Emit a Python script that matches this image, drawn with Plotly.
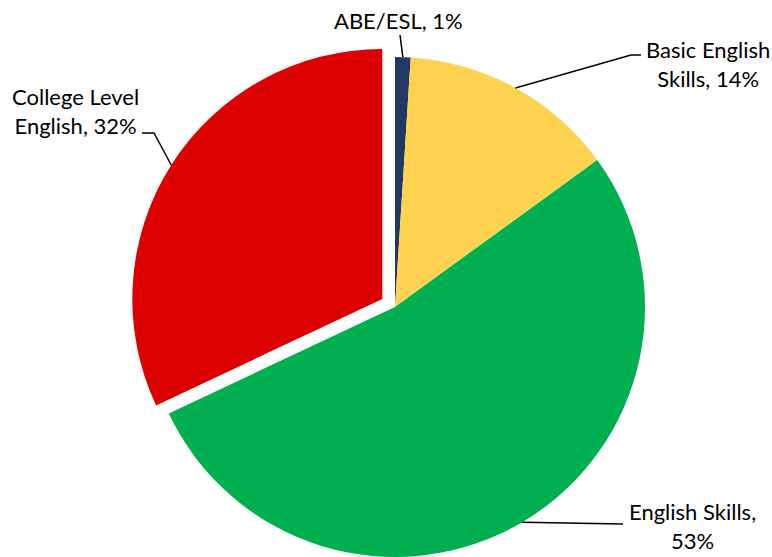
import math
import plotly.graph_objects as go

# Share of students by first English placement
categories = ["ABE/ESL", "Basic English Skills", "English Skills", "College Level English"]
shares = [1, 14, 53, 32]
colors = ["#203864", "#FFD24F", "#00B050", "#DC0000"]
label_lines = [["ABE/ESL, 1%"], ["Basic English", "Skills, 14%"],
               ["English Skills,", "53%"], ["College Level", "English, 32%"]]

W, H = 772, 557
CX, CY, R = 395, 307, 250          # pie centre and radius in pixels
PULL = 0.06                         # fraction of radius the last slice is pulled out
FONT = dict(family="Lato", size=22, color="#000000")
CLEAR = "rgba(0,0,0,0)"


def px(x, y):
    return x / W, 1 - y / H


def domain(cx, cy):
    return dict(x=[(cx - R) / W, (cx + R) / W], y=[1 - (cy + R) / H, 1 - (cy - R) / H])


total = sum(shares)
starts, acc = [], 0
for v in shares:
    starts.append(acc)
    acc += v
mids = [(s + v / 2) / total * 2 * math.pi for s, v in zip(starts, shares)]

# centre of the exploded slice, shifted along its bisector
pulled = len(shares) - 1
ox = CX + PULL * R * math.sin(mids[pulled])
oy = CY - PULL * R * math.cos(mids[pulled])

fig = go.Figure()
fig.add_trace(go.Pie(
    labels=categories, values=shares, sort=False, direction="clockwise", rotation=0,
    marker=dict(colors=colors[:pulled] + [CLEAR], line=dict(width=0)),
    textinfo="none", hoverinfo="label+percent", domain=domain(CX, CY), showlegend=False))
fig.add_trace(go.Pie(
    labels=categories, values=shares, sort=False, direction="clockwise", rotation=0,
    marker=dict(colors=[CLEAR] * pulled + [colors[pulled]], line=dict(width=0)),
    textinfo="none", hoverinfo="label+percent", domain=domain(ox, oy), showlegend=False))

# anchor points on each slice's rim
anchors = []
for i, m in enumerate(mids):
    cx, cy = (ox, oy) if i == pulled else (CX, CY)
    anchors.append((cx + R * math.sin(m), cy - R * math.cos(m)))

# label centres and leader-line bends (pixels)
label_pos = [(398, 20), (708, 64), (692, 526), (75, 111)]
leader_pts = [
    [(400, 35)],
    [(641, 55), (631, 55)],
    [(623, 524)],
    [(142, 133), (154, 133)],
]

shapes = []
for pts, a in zip(leader_pts, anchors):
    path_pts = pts + [a]
    d = "M " + " L ".join("{:.5f},{:.5f}".format(*px(x, y)) for x, y in path_pts)
    shapes.append(dict(type="path", xref="paper", yref="paper", path=d,
                       line=dict(color="#000000", width=1.5)))

annotations = []
for lines, (x, y) in zip(label_lines, label_pos):
    xp, yp = px(x, y)
    annotations.append(dict(text="<br>".join(lines), x=xp, y=yp, xref="paper", yref="paper",
                            xanchor="center", yanchor="middle", showarrow=False,
                            font=FONT, align="center"))

fig.update_layout(width=W, height=H, autosize=False, margin=dict(l=0, r=0, t=0, b=0),
                  paper_bgcolor="white", plot_bgcolor="white",
                  shapes=shapes, annotations=annotations)

fig.write_html("out.html")
